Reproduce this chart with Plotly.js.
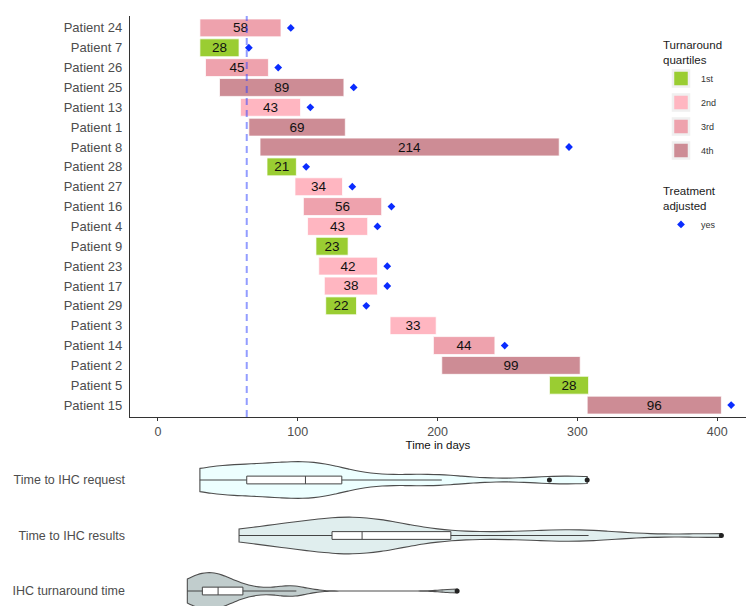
<!DOCTYPE html>
<html><head><meta charset="utf-8">
<script src="https://cdn.plot.ly/plotly-3.0.1.min.js"></script>
<style>html,body{margin:0;padding:0;background:#fff}#chart{width:746px;height:606px}</style>
</head><body><div id="chart"></div>
<script>
// ---- data ----
const patients = ['Patient 24','Patient 7','Patient 26','Patient 25','Patient 13','Patient 1','Patient 8','Patient 28','Patient 27','Patient 16','Patient 4','Patient 9','Patient 23','Patient 17','Patient 29','Patient 3','Patient 14','Patient 2','Patient 5','Patient 15'];
const requestDay = [30,30,34,44,59,65,73,78,98,104,107,113,115,119,120,166,197,203,280,307];
const turnaroundDays = [58,28,45,89,43,69,214,21,34,56,43,23,42,38,22,33,44,99,28,96];
const quartile = ['3rd','1st','3rd','4th','2nd','4th','4th','1st','2nd','3rd','2nd','1st','2nd','2nd','1st','2nd','3rd','4th','1st','4th'];
const adjustedDay = [95,65,86,140,109,null,294,106,139,167,157,null,164,164,149,null,248,null,null,410];
const quartileNames = ['1st','2nd','3rd','4th'];
const quartileColors = ['#9ACD32','#FFB6C1','#EEA2AD','#CD8C95'];
const xTicks = [0,100,200,300,400];
const thresholdDay = 63.5;
const violinNames = ['Time to IHC request','Time to IHC results','IHC turnaround time'];
const violinColors = ['#EDFFFF','#E0EEEE','#C1CDCD'];

const resultDay = requestDay.map((s,i)=>s+turnaroundDays[i]);
const violinData = [requestDay, resultDay, turnaroundDays];

// ---- statistics (R type-7 quantiles, nrd0 bandwidth) ----
function quant(vals,p){const a=[...vals].sort((x,y)=>x-y);const h=(a.length-1)*p;const lo=Math.floor(h);return a[lo]+(h-lo)*((a[Math.min(lo+1,a.length-1)])-a[lo]);}
function boxStats(vals){const q1=quant(vals,0.25),med=quant(vals,0.5),q3=quant(vals,0.75),iqr=q3-q1;
  const inL=vals.filter(v=>v>=q1-1.5*iqr),inH=vals.filter(v=>v<=q3+1.5*iqr);
  return {q1,med,q3,lo:Math.min(...inL),hi:Math.max(...inH),out:vals.filter(v=>v<q1-1.5*iqr||v>q3+1.5*iqr)};}
function nrd0(vals){const n=vals.length,m=vals.reduce((a,b)=>a+b,0)/n;const sd=Math.sqrt(vals.reduce((a,b)=>a+(b-m)*(b-m),0)/(n-1));
  const iqr=quant(vals,0.75)-quant(vals,0.25);const lo=Math.min(sd,iqr/1.34);return 0.9*lo*Math.pow(n,-0.2);}

const FONT='"Liberation Sans", Arial, Helvetica, sans-serif';
const traces=[];
quartileNames.forEach((q,k)=>{
  const idx=patients.map((_,i)=>i).filter(i=>quartile[i]===q);
  traces.push({type:'bar',orientation:'h',xaxis:'x',yaxis:'y',
    y:idx.map(i=>patients[i]),base:idx.map(i=>requestDay[i]),x:idx.map(i=>turnaroundDays[i]),
    text:idx.map(i=>String(turnaroundDays[i])),textposition:'inside',insidetextanchor:'middle',textangle:0,constraintext:'none',
    textfont:{family:FONT,size:13.5,color:'#111'},width:0.9,
    marker:{color:quartileColors[k],line:{color:'rgba(255,255,255,0.75)',width:1}},showlegend:false,hoverinfo:'skip'});
});
// legend keys for quartiles
quartileNames.forEach((q,k)=>{
  traces.push({type:'scatter',mode:'markers',x:[null],y:[null],xaxis:'x',yaxis:'y',name:q,legend:'legend',legendgroup:'g'+k,
    marker:{symbol:'square',size:16,color:quartileColors[k],line:{color:'#f0f0f0',width:2.5}},showlegend:true,hoverinfo:'skip'});
});
const adjIdx=patients.map((_,i)=>i).filter(i=>adjustedDay[i]!==null);
traces.push({type:'scatter',mode:'markers',xaxis:'x',yaxis:'y',name:'yes',legend:'legend2',
  x:adjIdx.map(i=>adjustedDay[i]),y:adjIdx.map(i=>patients[i]),
  marker:{symbol:'diamond',size:6,color:'#0a2cff'},hoverinfo:'skip'});

violinData.forEach((vals,k)=>{
  traces.push({type:'violin',orientation:'h',xaxis:'x2',yaxis:'y2',x:vals,y:vals.map(()=>violinNames[k]),
    spanmode:'hard',bandwidth:nrd0(vals),scalemode:'width',width:0.66,fillcolor:violinColors[k],
    line:{color:'#4d4d4d',width:1.1},points:false,box:{visible:false},meanline:{visible:false},showlegend:false,hoverinfo:'skip'});
  const s=boxStats(vals);
  traces.push({type:'box',orientation:'h',xaxis:'x2',yaxis:'y2',y:[violinNames[k]],q1:[s.q1],median:[s.med],q3:[s.q3],
    lowerfence:[s.lo],upperfence:[s.hi],width:0.14,fillcolor:'#ffffff',line:{color:'#444',width:1},whiskerwidth:0,
    boxpoints:false,showlegend:false,hoverinfo:'skip'});
  traces.push({type:'scatter',mode:'markers',xaxis:'x2',yaxis:'y2',x:s.out,y:s.out.map(()=>violinNames[k]),
    marker:{size:5,color:'#222'},showlegend:false,hoverinfo:'skip'});
});

const layout={
  width:746,height:606,margin:{l:0,r:0,t:0,b:0},paper_bgcolor:'#fff',plot_bgcolor:'#fff',
  font:{family:FONT,color:'#4d4d4d'},hovermode:false,barmode:'overlay',violinmode:'overlay',boxmode:'overlay',
  xaxis:{domain:[130/746,1],range:[-20,420.6],tickvals:xTicks,ticks:'outside',ticklen:3,tickcolor:'#333',tickwidth:1,
    showline:true,linecolor:'#333',linewidth:1.2,showgrid:false,zeroline:false,anchor:'y',
    tickfont:{size:12.5,color:'#4d4d4d'},title:{text:'Time in days',font:{size:11.5,color:'#111'},standoff:0}},
  yaxis:{domain:[1-417/606,1-16/606],type:'category',categoryorder:'array',categoryarray:patients,range:[19.6,-0.6],
    showline:true,linecolor:'#333',linewidth:1.2,ticks:'',showgrid:false,zeroline:false,anchor:'x',
    tickfont:{size:13,color:'#4d4d4d'},ticklabelstandoff:4},
  xaxis2:{domain:[130/746,1],range:[-20,420.6],visible:false,anchor:'y2'},
  yaxis2:{domain:[0,156/606],type:'category',categoryorder:'array',categoryarray:violinNames,range:[2.27,-0.5405],
    showline:false,ticks:'',showgrid:false,zeroline:false,anchor:'x2',tickfont:{size:12.5,color:'#4d4d4d'},ticklabelstandoff:4},
  legend:{x:661/746,xanchor:'left',y:1-34/606,yanchor:'top',bgcolor:'rgba(0,0,0,0)',traceorder:'grouped',tracegroupgap:5,
    title:{text:'Turnaround<br>quartiles',font:{size:11.5,color:'#1a1a1a'}},font:{size:9,color:'#333'}},
  legend2:{x:661/746,xanchor:'left',y:1-180/606,yanchor:'top',bgcolor:'rgba(0,0,0,0)',
    title:{text:'Treatment<br>adjusted',font:{size:11.5,color:'#1a1a1a'}},font:{size:9,color:'#333'}},
  shapes:[{type:'line',xref:'x',yref:'y domain',x0:thresholdDay,x1:thresholdDay,y0:0,y1:1,layer:'above',
    line:{color:'rgba(40,60,255,0.5)',width:2,dash:'7px,5px'}}]
};
Plotly.newPlot('chart',traces,layout,{staticPlot:true,displayModeBar:false});
</script></body></html>
